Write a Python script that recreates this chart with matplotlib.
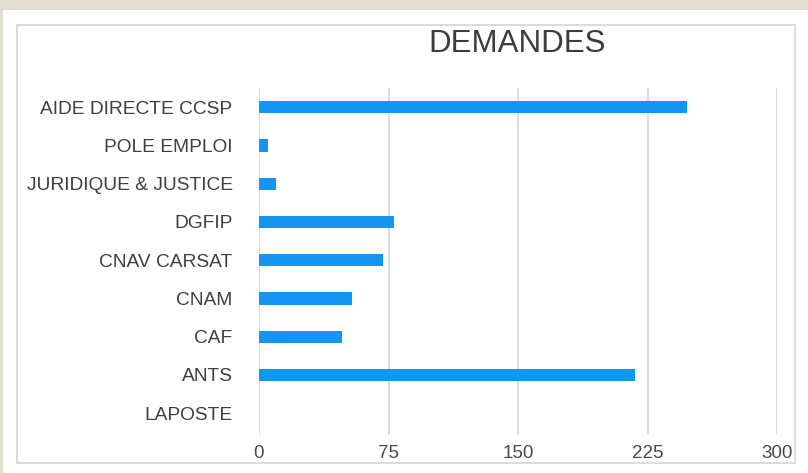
import matplotlib
matplotlib.use("Agg")
import matplotlib.pyplot as plt
from matplotlib.patches import Rectangle

# data
categories = ["AIDE DIRECTE CCSP", "POLE EMPLOI", "JURIDIQUE & JUSTICE", "DGFIP",
              "CNAV CARSAT", "CNAM", "CAF", "ANTS", "LAPOSTE"]
values = [248, 5, 10, 78, 72, 54, 48, 218, 0]
xticks = [0, 75, 150, 225, 300]

plt.rcParams['font.family'] = ['Liberation Sans', 'DejaVu Sans']

W, H = 808, 473
fig = plt.figure(figsize=(W / 100, H / 100), dpi=100)
fig.patch.set_facecolor('#e2dfd1')

# white panel and light inner frame
fig.patches.append(Rectangle((3 / W, 0), 1, 1 - 10 / H, transform=fig.transFigure,
                             facecolor='white', edgecolor='none', zorder=-2))
fig.patches.append(Rectangle((17 / W, 1 - 463 / H), (795 - 17) / W, (463 - 25) / H,
                             transform=fig.transFigure, facecolor='none',
                             edgecolor='#dcdcdc', linewidth=1.5, zorder=-1))

ax = fig.add_axes([259 / W, 1 - 435 / H, (777 - 259) / W, (435 - 88) / H])
ax.set_zorder(2)
ax.set_facecolor('none')

y = range(len(categories))
ax.barh(y, values, height=0.32, color='#1595f2', zorder=3)

ax.set_xlim(0, 300)
ax.set_ylim(8.57, -0.5)
ax.set_xticks(xticks)
ax.set_xticklabels([str(t) for t in xticks])
ax.set_yticks(list(y))
ax.set_yticklabels(categories)

ax.grid(axis='x', color='#d6d6d6', linewidth=1.2, zorder=0)
for s in ax.spines.values():
    s.set_visible(False)
ax.tick_params(axis='x', length=0, pad=7, labelsize=13.5, labelcolor='#4a4a4a')
ax.tick_params(axis='y', length=0, pad=19, labelsize=13.8, labelcolor='#3f3f3f')

fig.text(517 / W, 1 - 44 / H, "DEMANDES", fontsize=22.5, color='#3c3c3c',
         ha='center', va='center', zorder=3)

fig.savefig("out.png", dpi=100, facecolor=fig.get_facecolor())
